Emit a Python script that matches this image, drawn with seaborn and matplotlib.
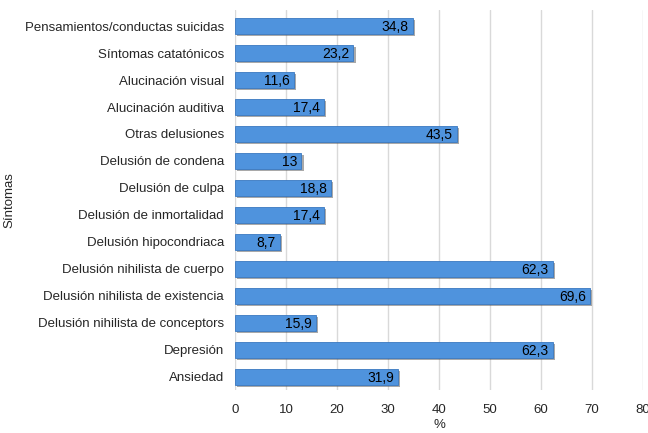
import matplotlib
matplotlib.use('Agg')
import matplotlib.pyplot as plt
import matplotlib.patheffects as pe
import seaborn as sns
import pandas as pd

# Síntomas y porcentajes
sintomas = ['Pensamientos/conductas suicidas', 'Síntomas catatónicos', 'Alucinación visual',
            'Alucinación auditiva', 'Otras delusiones', 'Delusión de condena', 'Delusión de culpa',
            'Delusión de inmortalidad', 'Delusión hipocondriaca', 'Delusión nihilista de cuerpo',
            'Delusión nihilista de existencia', 'Delusión nihilista de conceptors', 'Depresión', 'Ansiedad']
porcentajes = [34.8, 23.2, 11.6, 17.4, 43.5, 13, 18.8, 17.4, 8.7, 62.3, 69.6, 15.9, 62.3, 31.9]
etiquetas = ['34,8', '23,2', '11,6', '17,4', '43,5', '13', '18,8', '17,4', '8,7', '62,3', '69,6', '15,9', '62,3', '31,9']
xticks = [0, 10, 20, 30, 40, 50, 60, 70, 80]

df = pd.DataFrame({'sintoma': sintomas, 'pct': porcentajes})

sns.set_style('white')
plt.rcParams['font.family'] = ['Liberation Sans', 'DejaVu Sans']

fig, ax = plt.subplots(figsize=(6.48, 4.33), dpi=100)
fig.subplots_adjust(left=0.363, right=0.992, top=0.977, bottom=0.099)

sns.barplot(data=df, x='pct', y='sintoma', color='#4f93dd', width=0.6, saturation=1,
            edgecolor='#3a78c0', linewidth=0.6, ax=ax, zorder=3)
for p in ax.patches:
    p.set_path_effects([pe.SimplePatchShadow(offset=(1.5, -1.5), shadow_rgbFace='#555555', alpha=0.5),
                        pe.Normal()])

for i, (v, t) in enumerate(zip(porcentajes, etiquetas)):
    ax.text(v - 0.8, i + 0.05, t, ha='right', va='center', fontsize=10, color='black', zorder=4)

ax.set_xlim(0, 80)
ax.set_ylim(13.5, -0.6)
ax.set_xticks(xticks)
ax.xaxis.grid(True, color='#d9d9d9', linewidth=1, zorder=0)
ax.set_axisbelow(True)
for s in ax.spines.values():
    s.set_visible(False)
ax.tick_params(axis='x', length=6, color='#d9d9d9', labelsize=9.5, pad=4)
ax.tick_params(axis='y', length=0, labelsize=9.5, pad=8)
ax.set_xlabel('%', fontsize=9.5, labelpad=2)
ax.set_ylabel('Síntomas', fontsize=9.5)
ax.yaxis.set_label_coords(-0.54, 0.5)

plt.savefig('out.png', dpi=100)
